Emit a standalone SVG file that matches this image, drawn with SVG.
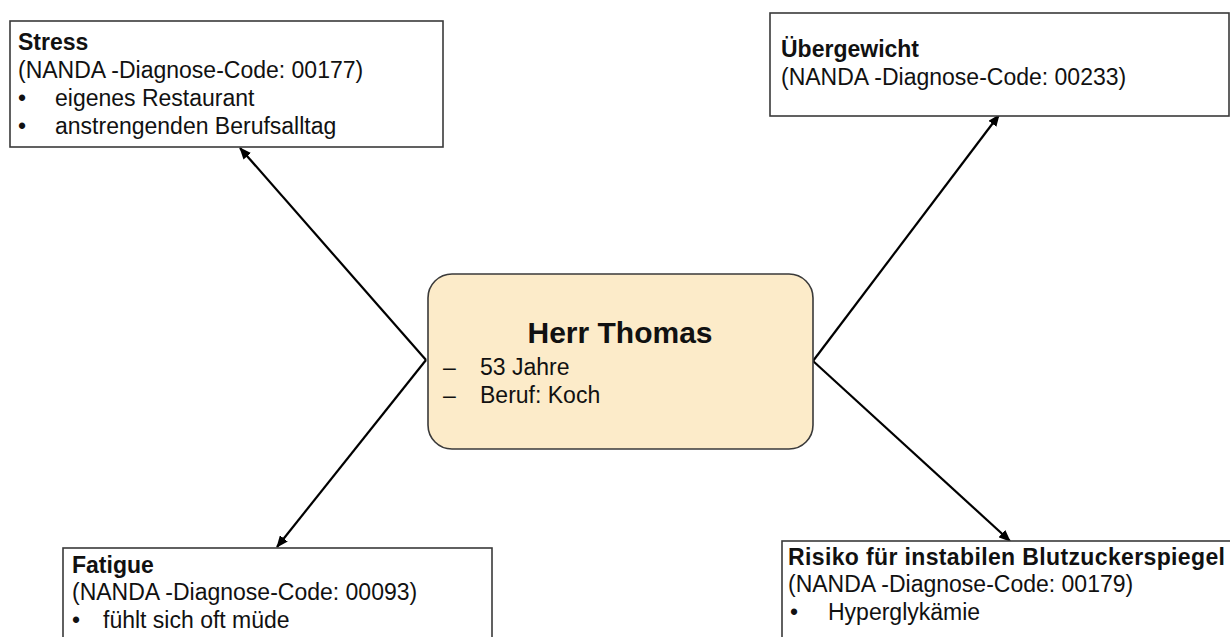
<svg xmlns="http://www.w3.org/2000/svg" width="1230" height="637" viewBox="0 0 1230 637">
<defs>
<style>
.box{fill:#ffffff;stroke:#3a3a3a;stroke-width:1.6}
.center{fill:#fcebc9;stroke:#3a3a3a;stroke-width:1.6}
.t{font-family:"Liberation Sans",Arial,sans-serif;font-size:23px;fill:#111}
.b{font-family:"Liberation Sans",Arial,sans-serif;font-size:23px;font-weight:bold;fill:#111}
.h{font-family:"Liberation Sans",Arial,sans-serif;font-size:30px;font-weight:bold;fill:#111}
.c{stroke:#000;stroke-width:2.2;fill:none;marker-end:url(#arr)}
</style>
<marker id="arr" markerUnits="userSpaceOnUse" markerWidth="12" markerHeight="10" refX="11" refY="5" orient="auto">
<path d="M0,0 L12,5 L0,10 z" fill="#000"/>
</marker>
</defs>
<rect width="1230" height="637" fill="#fff"/>
<g id="connectors">
<line class="c" x1="426" y1="360" x2="240" y2="148"/>
<line class="c" x1="426" y1="360" x2="277" y2="547"/>
<line class="c" x1="813" y1="361" x2="999" y2="115"/>
<line class="c" x1="813" y1="361" x2="1010" y2="541"/>
</g>
<g id="center">
<rect class="center" x="428" y="274" width="385" height="175" rx="24" ry="24"/>
<text class="h" x="620" y="343" text-anchor="middle">Herr Thomas</text>
<text class="t" x="443" y="375">–</text>
<text class="t" x="480" y="375">53 Jahre</text>
<text class="t" x="443" y="403">–</text>
<text class="t" x="480" y="403">Beruf: Koch</text>
</g>
<g id="stress">
<rect class="box" x="10" y="21" width="433" height="126"/>
<text class="b" x="18" y="50">Stress</text>
<text class="t" x="18" y="78">(NANDA -Diagnose-Code: 00177)</text>
<text class="t" x="18" y="106">•</text>
<text class="t" x="55" y="106">eigenes Restaurant</text>
<text class="t" x="18" y="134">•</text>
<text class="t" x="55" y="134">anstrengenden Berufsalltag</text>
</g>
<g id="uebergewicht">
<rect class="box" x="770" y="13" width="459" height="103"/>
<text class="b" x="781" y="57">Übergewicht</text>
<text class="t" x="781" y="85">(NANDA -Diagnose-Code: 00233)</text>
</g>
<g id="fatigue">
<rect class="box" x="63" y="548" width="429" height="100"/>
<text class="b" x="72" y="573">Fatigue</text>
<text class="t" x="72" y="600">(NANDA -Diagnose-Code: 00093)</text>
<text class="t" x="72" y="628">•</text>
<text class="t" x="103" y="628">fühlt sich oft müde</text>
</g>
<g id="risiko">
<rect class="box" x="782" y="541" width="460" height="110"/>
<text class="b" x="788" y="565" textLength="437" lengthAdjust="spacing">Risiko für instabilen Blutzuckerspiegel</text>
<text class="t" x="788" y="592">(NANDA -Diagnose-Code: 00179)</text>
<text class="t" x="790" y="620">•</text>
<text class="t" x="828" y="620">Hyperglykämie</text>
</g>
</svg>
